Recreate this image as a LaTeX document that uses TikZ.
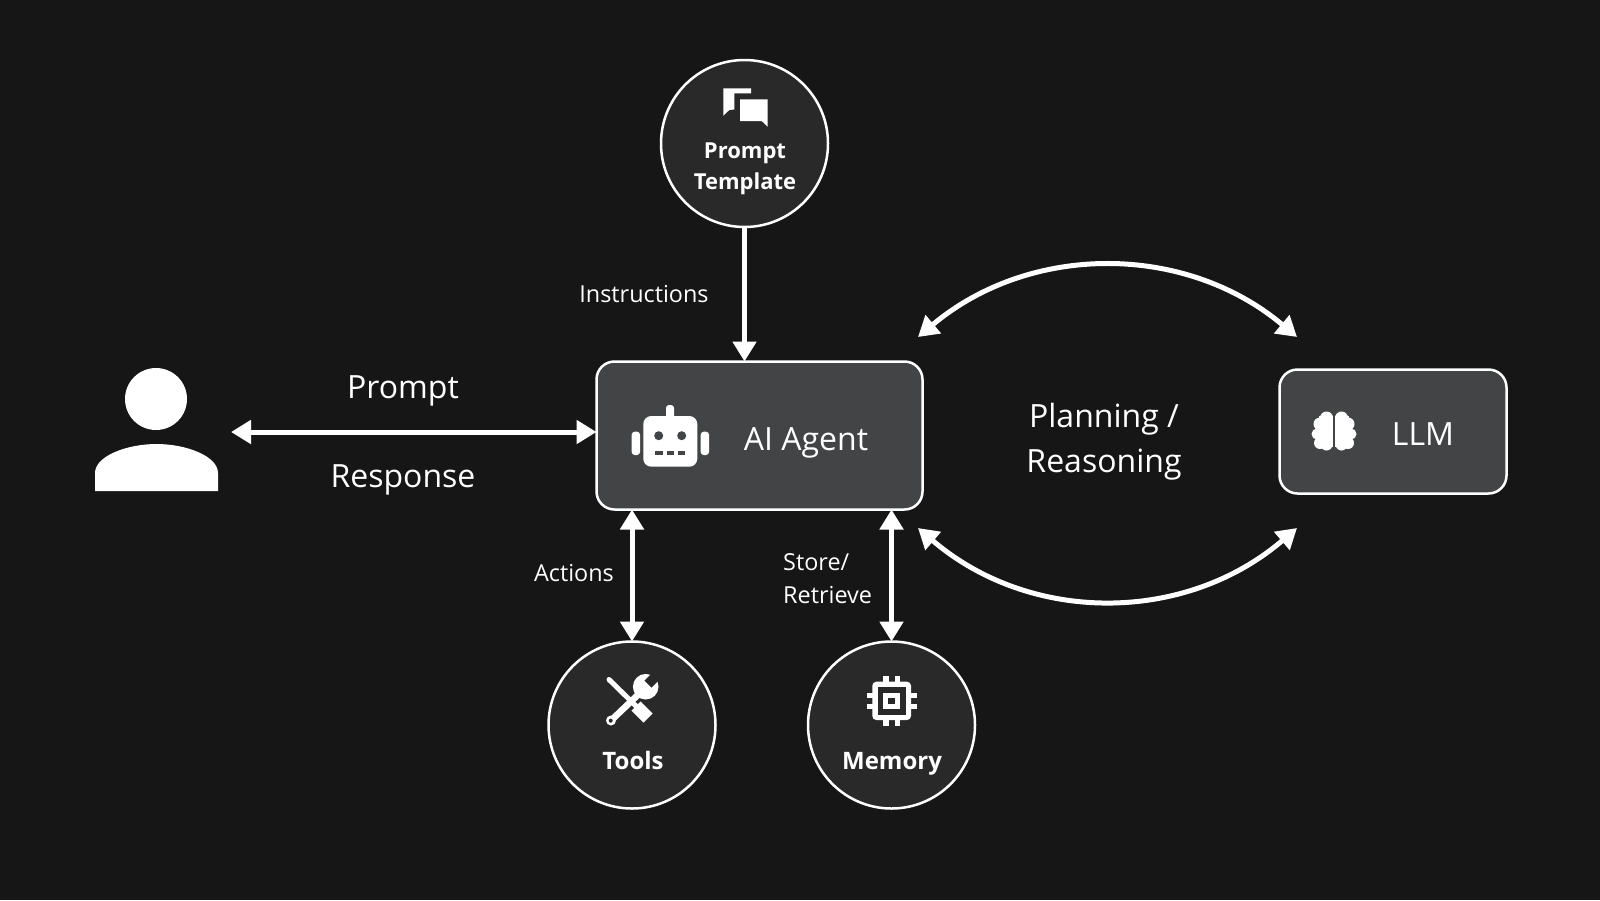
\documentclass[tikz,border=0pt]{standalone}
\usepackage{fontspec}
\setmainfont{Open Sans}
\usetikzlibrary{arrows.meta, positioning, calc}
\definecolor{cBack}{HTML}{161616}
\definecolor{cBox}{HTML}{434445}
\definecolor{cRound}{HTML}{292929}
\tikzset{
  font=\rmfamily,
  boxnode/.style={draw=white, fill=cBox, rounded corners=18pt, line width=2.5pt,
    inner sep=0pt, outer sep=0pt},
  roundnode/.style={circle, draw=white, fill=cRound, line width=2.5pt,
    minimum size=167pt, inner sep=0pt, outer sep=0pt},
  flow/.style={{Triangle[length=20pt, width=23pt]}-{Triangle[length=20pt, width=23pt]},
    line width=5pt, draw=white},
  downflow/.style={-{Triangle[length=20pt, width=23pt]}, line width=5pt, draw=white},
  biglabel/.style={text=white, align=center, inner sep=0pt,
    font=\fontsize{32}{44.5}\selectfont},
  smalllabel/.style={text=white, inner sep=0pt, font=\fontsize{23.4}{33}\selectfont},
  roundlabel/.style={text=white, align=center, inner sep=0pt,
    font=\bfseries\fontsize{24}{31}\selectfont},
  icon/.style={fill=white, draw=none},
}

\begin{document}
\begin{tikzpicture}[x=1pt, y=-1pt]

  % ----------------------------------------------------------------
  % Page
  % ----------------------------------------------------------------
  \path[use as bounding box, fill=cBack] (0,0) rectangle (1600,900);

  % ----------------------------------------------------------------
  % Main nodes
  % ----------------------------------------------------------------
  \node[boxnode, minimum width=326pt, minimum height=148pt] (agent) at (759.5,435.5) {};
  \node[boxnode, minimum width=227pt, minimum height=124pt] (llm) at (1393,431.5) {};
  \node[roundnode] (tmpl) at (744.5,143.5) {};
  \node[roundnode] (tools) at (632,725) {};
  \node[roundnode] (memory) at (891.5,725) {};

  \node[biglabel] (agentlabel) at (806,443) {AI Agent};
  \node[biglabel] (llmlabel) at (1423,434.5) {LLM};
  \node[roundlabel, font=\bfseries\fontsize{22}{31}\selectfont] (tmpllabel) at (745,169) {Prompt\\Template};
  \node[roundlabel] (toolslabel) at (633,760) {Tools};
  \node[roundlabel] (memorylabel) at (892,764) {Memory};

  % ----------------------------------------------------------------
  % Person
  % ----------------------------------------------------------------
  \fill[icon] (156,399) circle (31);
  \fill[icon] (95,491) -- (95,473) .. controls (95,456) and (127,444) .. (156.5,444)
    .. controls (186,444) and (218,456) .. (218,473) -- (218,491) -- cycle;

  % ----------------------------------------------------------------
  % Connectors
  % ----------------------------------------------------------------
  \coordinate (userend) at (231,432);
  \coordinate (planTL) at (918,337);
  \coordinate (planTR) at (1297,337);
  \coordinate (planBL) at (918,528);
  \coordinate (planBR) at (1297,528);

  \draw[flow] (userend) -- (agent.west |- userend);
  \draw[downflow] (tmpl) -- (tmpl |- agent.north);
  \draw[flow] (agent.south -| tools) -- (tools.north);
  \draw[flow] (agent.south -| memory) -- (memory.north);
  \draw[flow] (planTL) .. controls (1030,243) and (1185,243) .. (planTR);
  \draw[flow] (planBL) .. controls (1030,624) and (1185,624) .. (planBR);

  % ----------------------------------------------------------------
  % Connector labels
  % ----------------------------------------------------------------
  \node[biglabel] (promptlabel) at (403,391) {Prompt};
  \node[biglabel] (responselabel) at (403,480) {Response};
  \node[biglabel] (planlabel) at (1104,441.5) {Planning /\\Reasoning};
  \node[smalllabel] (instrlabel) at (644,294) {Instructions};
  \node[smalllabel] (actionslabel) at (574,573) {Actions};
  \node[smalllabel, align=left, anchor=west] (storelabel) at (783,578.5) {Store/\\Retrieve};

  % ----------------------------------------------------------------
  % Icons
  % ----------------------------------------------------------------
  % chat bubbles
  \fill[icon] (723.3,88.3) -- (751,88.3) -- (751,93.3) -- (734.3,93.3) -- (734.3,109.5)
    -- (729.3,110) -- (723.3,115.7) -- cycle;
  \fill[icon] (740,99.3) -- (767.7,99.3) -- (767.7,126.7) -- (761.7,121) -- (740,121) -- cycle;

  % robot
  \fill[icon, rounded corners=8pt] (643.3,416) rectangle (697.3,466.7);
  \fill[icon, rounded corners=3pt] (666,405) rectangle (674,420);
  \fill[icon, rounded corners=3pt] (631.7,431.7) rectangle (640,455);
  \fill[icon, rounded corners=3pt] (700.7,431.7) rectangle (709,455);
  \foreach \ex in {658.7,681.7}
    \fill[cBox] (\ex,435.7) circle (4.5);
  \foreach \mx in {655,666.7,677.7}
    \fill[cBox] (\mx,451) rectangle ++(7.6,4);

  % brain
  \foreach \bs in {-1,1} {
    \foreach \bx/\by/\br in {7.5/418/6.5, 14/424/6.5, 17/434/5.5, 14/443/6, 7.5/444.5/6, 9.5/431/8.5}
      \fill[icon] (1334+\bs*\bx,\by) circle (\br);
    \fill[icon] (1334+\bs*1.2,416) rectangle (1334+\bs*15,447);
  }

  % tools
  \draw[white, line width=5pt, line cap=round] (609,679.5) -- (636,706);
  \draw[white, line width=13pt] (636,706) -- (648,718);
  \draw[white, line width=6.5pt] (611,720.5) -- (642,691);
  \fill[icon] (611,720.5) circle (5);
  \fill[icon] (645.7,686.7) circle (12.8);
  \fill[cRound] (644.5,680.5) -- (651.5,687.5) -- (663.5,675.5) -- (656.5,668.5) -- cycle;
  \fill[cRound] (610.7,720.7) circle (2);

  % chip
  \foreach \px in {883.3,894.5}
    \fill[icon] (\px,676) rectangle ++(5.3,49.7);
  \foreach \py in {692.7,704}
    \fill[icon] (866.7,\py) rectangle ++(50,5.3);
  \fill[icon, rounded corners=4pt] (872.3,681.7) rectangle (911,720);
  \fill[cRound] (877.7,687.3) rectangle (905.7,715);
  \fill[icon] (883.3,692.7) rectangle (900,709.3);
  \fill[cRound] (888.3,697.7) rectangle (895,704.3);

\end{tikzpicture}
\end{document}
